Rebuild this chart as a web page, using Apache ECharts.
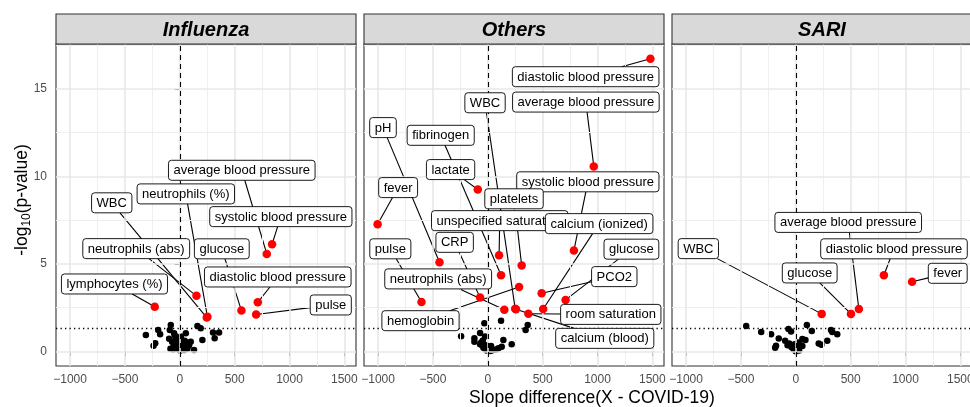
<!DOCTYPE html>
<html><head><meta charset="utf-8">
<script src="https://cdn.jsdelivr.net/npm/echarts@6/dist/echarts.min.js"></script>
<style>html,body{margin:0;padding:0;background:#fff}#c{width:970px;height:407px}</style>
</head><body><div id="c"></div>
<script>
// ---------- data ----------
const panelNames = ['Influenza', 'Others', 'SARI'];
const xTicks = [-1000, -500, 0, 500, 1000, 1500];
const yTicks = [0, 5, 10, 15];
const xRange = [-1128, 1606];
const yRange = [-0.84, 17.57];
const pThreshold = 1.301; // -log10(0.05)

// Influenza
const fluSigNames = ['lymphocytes (%)', 'neutrophils (abs)', 'WBC', 'neutrophils (%)', 'glucose',
  'diastolic blood pressure', 'pulse', 'average blood pressure', 'systolic blood pressure'];
const fluSigX = [-228, 152, 246, 252, 562, 711, 696, 793, 841];
const fluSigY = [2.55, 3.17, 1.93, 1.97, 2.33, 2.80, 2.10, 5.57, 6.12];
const fluNs = [[-309,0.93],[-197,1.22],[-179,0.97],[-224,0.46],[-239,0.32],[-82,1.50],[-91,1.22],[-52,1.03],
  [-97,0.72],[55,1.03],[161,1.45],[191,1.32],[206,0.65],[130,0.07],[303,1.07],[358,1.07],[318,0.74],
  [-70,0.55],[-55,0.35],[-40,0.62],[-30,0.2],[-20,0.45],[-10,0.1],[0,0.3],[5,0.05],[15,0.6],[20,0.18],
  [30,0.4],[40,0.08],[50,0.25],[60,0.5],[70,0.15],[85,0.35],[100,0.55],[-85,0.15],[-60,0.1],[-25,0.75],
  [10,0.85],[-45,0.9],[45,0.6]];

// Others
const othSigNames = ['diastolic blood pressure', 'average blood pressure', 'WBC', 'pH', 'fibrinogen', 'lactate',
  'fever', 'systolic blood pressure', 'platelets', 'unspecified saturation', 'calcium (ionized)', 'pulse', 'CRP',
  'glucose', 'PCO2', 'neutrophils (abs)', 'hemoglobin', 'room saturation', 'calcium (blood)'];
const othSigX = [1482, 966, 250, -440, 121, -91, -1004, 785, 309, 103, 505, -604, -70, 709, 491, 151, 285, 370, 257];
const othSigY = [16.73, 10.57, 2.43, 5.09, 4.35, 9.25, 7.27, 5.76, 4.90, 5.49, 2.42, 2.82, 3.07, 2.94, 3.32, 2.38, 3.68, 2.15, 2.40];
const othNs = [[-31,1.6],[121,1.75],[364,1.5],[345,1.22],[-243,0.86],[-70,1.05],[-122,0.74],[-122,0.55],
  [-25,0.84],[-55,0.36],[142,0.65],[218,0.4],[-40,0.2],[-25,0.15],[-10,0.05],[6,0.07],[25,0.02],[52,0.07],
  [75,0.1],[97,0.17],[127,0.26],[-60,0.5],[-15,0.35],[30,0.3],[-45,0.62],[-70,0.4]];

// SARI
const sariSigNames = ['WBC', 'glucose', 'average blood pressure', 'diastolic blood pressure', 'fever'];
const sariSigX = [236, 503, 575, 803, 1060];
const sariSigY = [2.14, 2.14, 2.42, 4.35, 3.98];
const sariNs = [[-452,1.45],[-315,1.1],[-225,0.97],[-155,0.73],[-188,0.2],[-180,0.32],[-67,1.28],[-43,1.13],
  [101,1.5],[146,1.16],[88,0.65],[60,0.7],[209,0.45],[233,0.37],[287,0.61],[321,1.22],[333,1.1],[378,0.97],
  [-97,0.6],[-60,0.45],[-40,0.25],[-20,0.1],[0,0.0],[15,0.2],[30,0.05],[45,0.35],[-10,0.4],[20,0.5],[60,0.3],[-75,0.35]];

// ---------- layout (label box centres, in axis units) ----------
const fluLabelPos = [[-595,3.85],[-397,5.87],[-620,8.49],[55,9.0],[383,5.86],[893,4.25],[1376,2.65],[565,10.35],[921,7.7]];
const othLabelPos = [[892,15.70],[894,14.25],[-25,14.21],[-955,12.79],[-429,12.35],[-339,10.39],[-817,9.36],
  [912,9.69],[239,8.72],[109,7.47],[1015,7.30],[-888,5.86],[-302,6.23],[1309,5.84],[1153,4.27],[-452,4.14],
  [-613,1.75],[1121,2.11],[1066,0.74]];
const sariLabelPos = [[-888,5.87],[127,4.48],[478,7.37],[895,5.86],[1385,4.46]];

// ---------- chart ----------
const FONT = '"Liberation Sans", Arial, Helvetica, sans-serif';
const mctx = document.createElement('canvas').getContext('2d');
mctx.font = '13px ' + FONT;
const textW = t => mctx.measureText(t).width;
const BOX_H = 20, PAD_X = 5;

const panels = [
  {names: fluSigNames, xs: fluSigX, ys: fluSigY, lab: fluLabelPos, ns: fluNs},
  {names: othSigNames, xs: othSigX, ys: othSigY, lab: othLabelPos, ns: othNs},
  {names: sariSigNames, xs: sariSigX, ys: sariSigY, lab: sariLabelPos, ns: sariNs}
];

const GL = 56, GW = 300, GAP = 8, GT = 44, GH = 322, STRIP = 30;
const minus = v => v < 0 ? '\u2212' + Math.abs(v) : String(v);

const grids = [], xAxes = [], yAxes = [], series = [], graphics = [];
const minorX = xTicks.slice(1).map((v, k) => (v + xTicks[k]) / 2);
const minorY = yTicks.map(v => v + 2.5).filter(v => v < yRange[1]);

panels.forEach((d, i) => {
  const left = GL + i * (GW + GAP);
  grids.push({left: left, top: GT, width: GW, height: GH, show: true, backgroundColor: '#fff',
    borderColor: '#333', borderWidth: 1.1, containLabel: false, outerBoundsMode: 'none'});
  xAxes.push({type: 'value', gridIndex: i, min: xRange[0], max: xRange[1],
    axisLine: {show: false}, splitLine: {show: false},
    axisTick: {show: true, length: 5, lineStyle: {color: '#333', width: 1}, customValues: xTicks},
    axisLabel: {customValues: xTicks, color: '#4d4d4d', fontSize: 12, fontFamily: FONT, margin: 8, formatter: minus}});
  yAxes.push({type: 'value', gridIndex: i, min: yRange[0], max: yRange[1],
    axisLine: {show: false}, splitLine: {show: false},
    axisTick: {show: i === 0, length: 5, lineStyle: {color: '#333', width: 1}, customValues: yTicks},
    axisLabel: {show: i === 0, customValues: yTicks, color: '#4d4d4d', fontSize: 12, fontFamily: FONT, margin: 9}});

  const gridLines = [];
  minorX.forEach(v => gridLines.push({xAxis: v, lineStyle: {color: '#efefef', width: 1, type: 'solid'}}));
  minorY.forEach(v => gridLines.push({yAxis: v, lineStyle: {color: '#efefef', width: 1, type: 'solid'}}));
  xTicks.forEach(v => gridLines.push({xAxis: v, lineStyle: {color: '#e8e8e8', width: 1.6, type: 'solid'}}));
  yTicks.forEach(v => gridLines.push({yAxis: v, lineStyle: {color: '#e8e8e8', width: 1.6, type: 'solid'}}));
  series.push({type: 'line', xAxisIndex: i, yAxisIndex: i, data: [], z: 1, silent: true,
    markLine: {silent: true, symbol: ['none', 'none'], label: {show: false}, animation: false, data: gridLines}});
  series.push({type: 'line', xAxisIndex: i, yAxisIndex: i, data: [], z: 2, silent: true,
    markLine: {silent: true, symbol: ['none', 'none'], label: {show: false}, animation: false, data: [
      {xAxis: 0, lineStyle: {color: '#000', width: 1.1, type: [5, 4]}},
      {yAxis: pThreshold, lineStyle: {color: '#000', width: 1.3, type: [1.3, 3.2]}}
    ]}});
  series.push({type: 'scatter', xAxisIndex: i, yAxisIndex: i, data: d.ns, symbolSize: 6.5, z: 3,
    itemStyle: {color: '#000', opacity: 1}});

  const items = d.names.map((n, k) => ({name: n, value: [d.xs[k], d.ys[k], d.lab[k][0], d.lab[k][1]]}));
  const geom = (params, api) => {
    const p = api.coord([api.value(0), api.value(1)]);
    const c = api.coord([api.value(2), api.value(3)]);
    const name = d.names[params.dataIndex];
    const w = textW(name) + 2 * PAD_X;
    return {p, c, w, h: BOX_H, name};
  };
  series.push({type: 'custom', xAxisIndex: i, yAxisIndex: i, data: items, z: 4, silent: true, clip: false,
    encode: {x: [0, 2], y: [1, 3]},
    renderItem: (params, api) => {
      const g = geom(params, api);
      const dx = g.p[0] - g.c[0], dy = g.p[1] - g.c[1];
      let s = Infinity;
      if (dx !== 0) s = Math.min(s, (g.w / 2) / Math.abs(dx));
      if (dy !== 0) s = Math.min(s, (g.h / 2) / Math.abs(dy));
      if (!(s < 1)) return null;
      return {type: 'line', shape: {x1: g.c[0] + dx * s, y1: g.c[1] + dy * s, x2: g.p[0], y2: g.p[1]},
        style: {stroke: '#000', lineWidth: 1.1}};
    }});
  series.push({type: 'scatter', xAxisIndex: i, yAxisIndex: i, data: d.xs.map((x, k) => [x, d.ys[k]]),
    symbolSize: 8.5, z: 5, itemStyle: {color: '#ff0000', opacity: 1}});
  series.push({type: 'custom', xAxisIndex: i, yAxisIndex: i, data: items, z: 6, silent: true, clip: false,
    encode: {x: [0, 2], y: [1, 3]},
    renderItem: (params, api) => {
      const g = geom(params, api);
      return {type: 'group', children: [
        {type: 'rect', shape: {x: g.c[0] - g.w / 2, y: g.c[1] - g.h / 2, width: g.w, height: g.h, r: 3},
          style: {fill: '#fff', stroke: '#000', lineWidth: 0.9}},
        {type: 'text', style: {text: g.name, x: g.c[0], y: g.c[1] + 0.5, align: 'center', verticalAlign: 'middle',
          font: '13px ' + FONT, fill: '#000'}}
      ]};
    }});

  graphics.push({type: 'rect', shape: {x: left, y: GT - STRIP, width: GW, height: STRIP},
    style: {fill: '#d9d9d9', stroke: '#333', lineWidth: 1.1}, z: 10});
  graphics.push({type: 'text', x: left + GW / 2, y: GT - STRIP / 2 + 1, z: 11,
    style: {text: panelNames[i], align: 'center', verticalAlign: 'middle',
      font: 'italic bold 20px ' + FONT, fill: '#000'}});
});

graphics.push({type: 'text', x: 22, y: 200, rotation: Math.PI / 2, z: 11,
  style: {text: '{a|-log}{b|10}{a|(p-value)}', align: 'center', verticalAlign: 'middle',
    rich: {a: {fontSize: 17.5, fontFamily: FONT, fill: '#000', color: '#000'},
           b: {fontSize: 12, fontFamily: FONT, fill: '#000', color: '#000', padding: [9, 0, 0, 0]}}}});
graphics.push({type: 'text', x: 592, y: 398, z: 11,
  style: {text: 'Slope difference(X - COVID-19)', align: 'center', verticalAlign: 'middle',
    font: '17.5px ' + FONT, fill: '#000'}});

const chart = echarts.init(document.getElementById('c'), null, {renderer: 'canvas'});
chart.setOption({
  animation: false,
  backgroundColor: '#fff',
  grid: grids, xAxis: xAxes, yAxis: yAxes, series: series,
  graphic: graphics
});
</script>
</body></html>
